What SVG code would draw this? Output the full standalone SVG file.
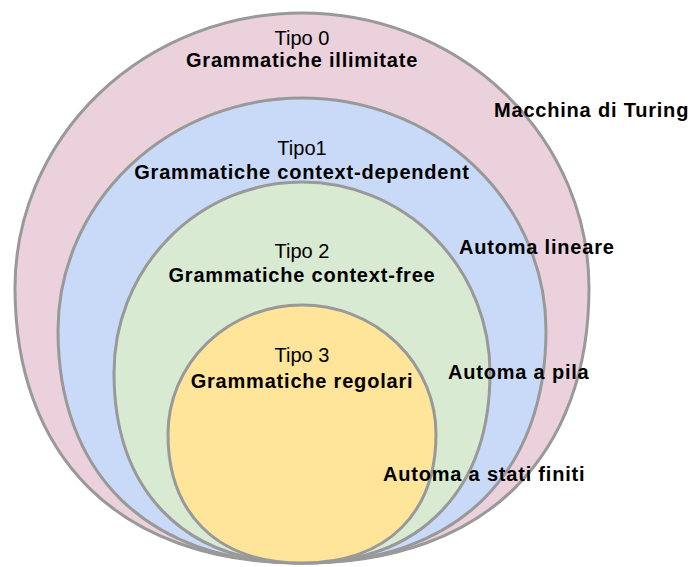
<svg xmlns="http://www.w3.org/2000/svg" width="691" height="567" viewBox="0 0 691 567">
  <style>
    .ring { stroke: #999999; stroke-width: 3; }
    .t0 { fill: #ead1dc; }
    .t1 { fill: #c9daf8; }
    .t2 { fill: #d9ead3; }
    .t3 { fill: #ffe599; }
    text { font-family: "Liberation Sans", Arial, sans-serif; font-size: 20px; fill: #000000; }
    .tipo { text-anchor: middle; }
    .gram { text-anchor: middle; font-weight: bold; letter-spacing: 0.8px; }
    .auto { font-weight: bold; letter-spacing: 0.8px; }
  </style>

  <!-- Type 0: unrestricted grammars / Turing machine -->
  <g id="tipo0">
    <path class="ring t0" d="M15,288 A287,275 0 0 1 589,288 C589,453 488.6,563 302,563 C115.4,563 15,453 15,288 Z"/>
    <text class="tipo" x="302" y="45">Tipo 0</text>
    <text class="gram" x="302" y="67">Grammatiche illimitate</text>
    <text class="auto" x="494" y="117">Macchina di Turing</text>
  </g>

  <!-- Type 1: context-sensitive grammars / linear bounded automaton -->
  <g id="tipo1">
    <path class="ring t1" d="M58,330.5 A244,232.5 0 0 1 546,330.5 C546,470 460.6,563 302,563 C143.4,563 58,470 58,330.5 Z"/>
    <text class="tipo" x="302" y="155">Tipo1</text>
    <text class="gram" x="302" y="179">Grammatiche context-dependent</text>
    <text class="auto" x="459" y="254">Automa lineare</text>
  </g>

  <!-- Type 2: context-free grammars / pushdown automaton -->
  <g id="tipo2">
    <path class="ring t2" d="M114,372.5 A188,190.5 0 0 1 490,372.5 C490,486.8 424.2,563 302,563 C179.8,563 114,486.8 114,372.5 Z"/>
    <text class="tipo" x="302" y="258">Tipo 2</text>
    <text class="gram" x="302" y="282">Grammatiche context-free</text>
    <text class="auto" x="448" y="379">Automa a pila</text>
  </g>

  <!-- Type 3: regular grammars / finite state automaton -->
  <g id="tipo3">
    <path class="ring t3" d="M168,434 A134,129 0 0 1 436,434 C436,511.4 389.1,563 302,563 C214.9,563 168,511.4 168,434 Z"/>
    <text class="tipo" x="302" y="362">Tipo 3</text>
    <text class="gram" x="302" y="388">Grammatiche regolari</text>
    <text class="auto" x="383" y="481">Automa a stati finiti</text>
  </g>

  <!-- no connectors in this diagram -->
  <g id="connectors"/>
</svg>
